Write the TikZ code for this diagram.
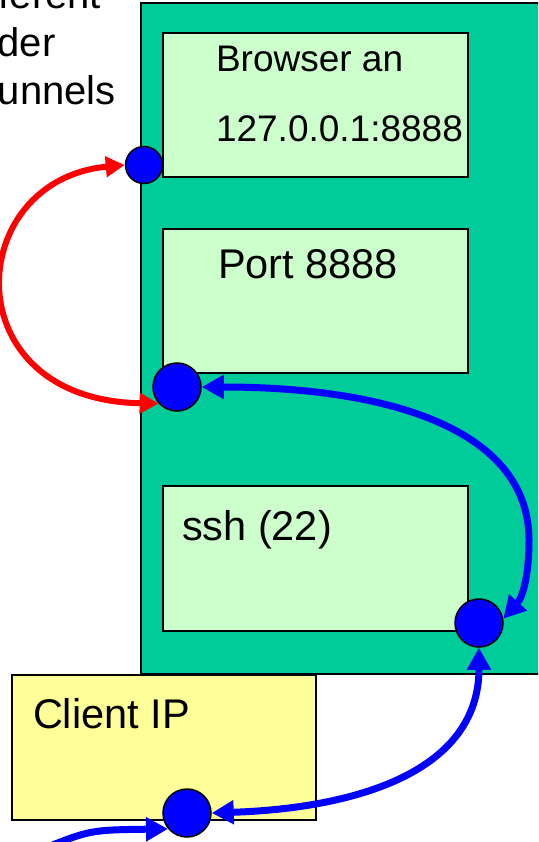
\documentclass[tikz,border=0pt]{standalone}
\usepackage{fontspec}
\setmainfont{Liberation Sans}
\usetikzlibrary{arrows.meta}
\definecolor{hostgreen}{HTML}{00CC99}
\definecolor{boxgreen}{HTML}{CCFFCC}
\definecolor{clientyellow}{HTML}{FFFF99}
\definecolor{dotblue}{HTML}{0000FF}
\definecolor{arrred}{HTML}{FF0000}
\newcommand\fsSmall{\fontsize{37}{44}\selectfont}
\newcommand\fsBig{\fontsize{41.5}{50}\selectfont}
\newcommand\fsSide{\fontsize{40}{48}\selectfont}
\tikzset{
  panel/.style={draw=black, line width=1.5pt, inner sep=0pt, outer sep=0pt},
  dotnode/.style={circle, draw=black, fill=dotblue, line width=1.5pt, inner sep=0pt},
  lbl/.style={inner sep=0pt, outer sep=0pt, anchor=base west, text=black},
  redarr/.style={draw=arrred, line width=6pt,
     {Triangle[length=19pt,width=20pt]}-{Triangle[length=19pt,width=20pt]}},
  bluearr/.style={draw=dotblue, line width=7pt,
     {Triangle[length=22pt,width=23pt]}-{Triangle[length=22pt,width=23pt]}},
  bluearrone/.style={draw=dotblue, line width=7pt, -{Triangle[length=22pt,width=23pt]}},
}
\begin{document}
\begin{tikzpicture}[x=1pt,y=-1pt]
\useasboundingbox (0,0) rectangle (538,842);
\begin{scope}
\clip (0,0) rectangle (538,842);
% host
\node[panel, fill=hostgreen, minimum width=420pt, minimum height=671pt] (host) at (351,338.5) {};
% inner boxes
\node[panel, fill=boxgreen, minimum width=305pt, minimum height=144pt] (browser) at (315.5,105) {};
\node[panel, fill=boxgreen, minimum width=305pt, minimum height=144pt] (port) at (315.5,301) {};
\node[panel, fill=boxgreen, minimum width=305pt, minimum height=145pt] (ssh) at (315.5,558.5) {};
\node[panel, fill=clientyellow, minimum width=304pt, minimum height=145pt] (client) at (164,747.5) {};
% texts
\node[lbl, font=\fsSmall] (tbrowser) at (216,72) {Browser an};
\node[lbl, font=\fsSmall] (taddr) at (216,142) {127.0.0.1:8888};
\node[lbl, font=\fsBig] (tport) at (218,278) {Port 8888};
\node[lbl, font=\fsBig] (tssh) at (182,540) {ssh (22)};
\node[lbl, font=\fsBig] (tclient) at (33,728) {Client IP};
\node[inner sep=0pt, outer sep=0pt, anchor=base east, font=\fsSide] (side1) at (101,9) {fferent};
\node[lbl, font=\fsSide] (side2) at (-2.4,57) {der};
\node[lbl, font=\fsSide] (side3) at (-2,105) {unnels};
% dots
\node[dotnode, minimum size=37pt] (dot1) at (144,165) {};
\node[dotnode, minimum size=48pt] (dot2) at (177,387) {};
\node[dotnode, minimum size=48pt] (dot3) at (479,623) {};
\node[dotnode, minimum size=48pt] (dot4) at (187,813) {};
% connectors
\draw[redarr] (dot2.222) .. controls (-48,400) and (-37,180) .. (dot1.west);
\coordinate (bend) at (529,540);
\draw[bluearr] (dot2.east) .. controls (390,387) and (529,430) .. (bend)
   .. controls (529,578) and (522,598) .. (dot3.10);
\draw[bluearr] (dot3.south) .. controls (479,770) and (360,808) .. (dot4.east);
\coordinate (ext) at (40,850);
\draw[bluearrone] (ext) .. controls (90,830) .. (dot4.220);
\end{scope}
\end{tikzpicture}
\end{document}
